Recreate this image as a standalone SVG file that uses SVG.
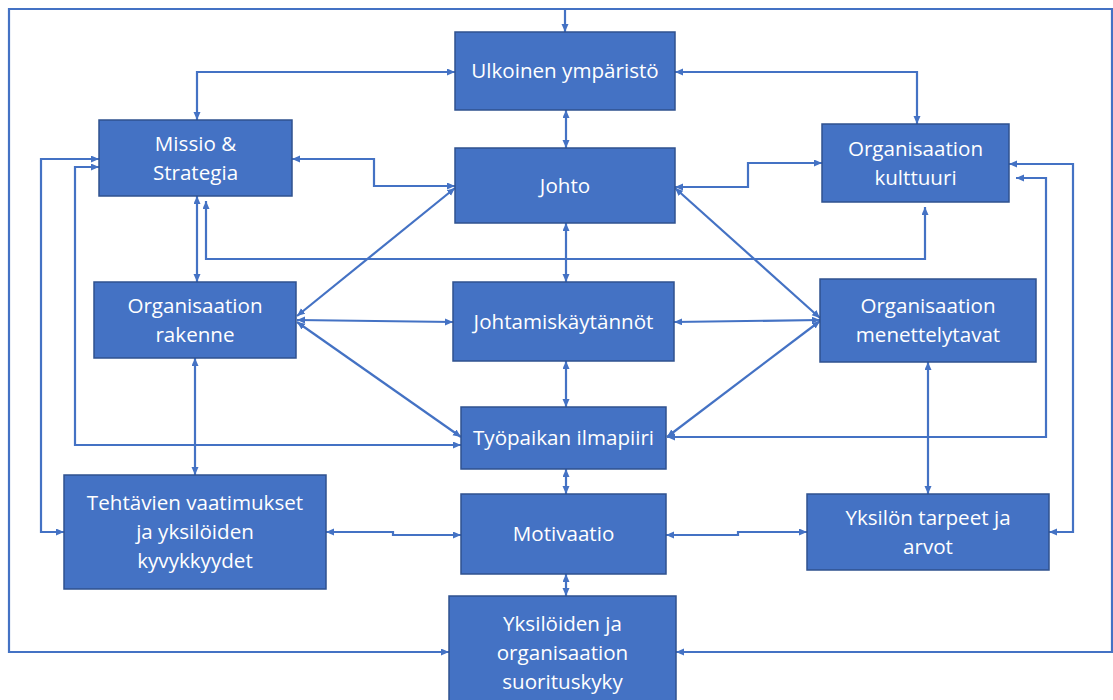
<svg xmlns="http://www.w3.org/2000/svg" width="1113" height="700" viewBox="0 0 1113 700">
  <style>
    .box { fill: #4472C4; stroke: #2F528F; stroke-width: 1.5; }
    .lbl { font-family: "Open Sans", "Liberation Sans", sans-serif; font-size: 20.6px; fill: #FFFFFF; text-anchor: middle; }
    .wire { fill: none; stroke: #4472C4; stroke-width: 2.2; }
    .both { marker-start: url(#head); marker-end: url(#head); }
    .end { marker-end: url(#head); }
  </style>
  <defs>
    <marker id="head" markerUnits="userSpaceOnUse" markerWidth="10" markerHeight="8" refX="8" refY="3.5" orient="auto-start-reverse">
      <path d="M0,0 L8,3.5 L0,7 Z" fill="#4472C4"/>
    </marker>
  </defs>
  <rect width="1113" height="700" fill="#FFFFFF"/>

  <!-- connectors -->
  <g id="connectors">
    <!-- outer feedback loop -->
    <path class="wire both" d="M449,652 H9 V9 H1112 V652 H676"/>
    <path class="wire end" d="M565,9 V32"/>
    <!-- top row -->
    <path class="wire both" d="M455,72 H197 V120"/>
    <path class="wire both" d="M675,72 H917 V124"/>
    <path class="wire both" d="M566,110 V148"/>
    <path class="wire both" d="M292,159 H374 V186 H455"/>
    <path class="wire both" d="M675,187 H748 V163 H822"/>
    <!-- diagonals from Johto -->
    <path class="wire both" d="M455,188 L297,316"/>
    <path class="wire both" d="M675,188 L820,318"/>
    <!-- Missio links -->
    <path class="wire both" d="M197,196 V282"/>
    <path class="wire both" d="M206,201 V259 H925 V207"/>
    <path class="wire both" d="M99,159 H41 V532 H64"/>
    <path class="wire both" d="M99,167 H75 V445 H461"/>
    <!-- middle row -->
    <path class="wire both" d="M566,223 V282"/>
    <path class="wire both" d="M297,320 L453,322"/>
    <path class="wire both" d="M297,322 L461,437"/>
    <path class="wire both" d="M674,322 L820,320"/>
    <path class="wire both" d="M820,321 L667,437"/>
    <path class="wire both" d="M566,361 V407"/>
    <!-- right side loops -->
    <path class="wire both" d="M1016,178 H1046 V437 H667"/>
    <path class="wire both" d="M1009,164 H1073 V532 H1049"/>
    <path class="wire both" d="M928,362 V494"/>
    <!-- lower row -->
    <path class="wire both" d="M566,469 V494"/>
    <path class="wire both" d="M566,574 V596"/>
    <path class="wire both" d="M666,535 H738 V532 H807"/>
    <path class="wire both" d="M326,532 H393 V535 H461"/>
    <path class="wire both" d="M195,358 V475"/>
  </g>

  <!-- nodes -->
  <g id="ulkoinen">
    <rect class="box" x="455" y="32" width="220" height="78"/>
    <text class="lbl" x="565" y="78">Ulkoinen ympäristö</text>
  </g>
  <g id="johto">
    <rect class="box" x="455" y="148" width="220" height="75"/>
    <text class="lbl" x="565" y="192.5">Johto</text>
  </g>
  <g id="missio">
    <rect class="box" x="99" y="120" width="193" height="76"/>
    <text class="lbl" x="195.5" y="150.5">Missio &amp;</text>
    <text class="lbl" x="195.5" y="179.5">Strategia</text>
  </g>
  <g id="kulttuuri">
    <rect class="box" x="822" y="124" width="187" height="78"/>
    <text class="lbl" x="915.5" y="155.5">Organisaation</text>
    <text class="lbl" x="915.5" y="184.5">kulttuuri</text>
  </g>
  <g id="rakenne">
    <rect class="box" x="94" y="282" width="202" height="76"/>
    <text class="lbl" x="195" y="312.5">Organisaation</text>
    <text class="lbl" x="195" y="341.5">rakenne</text>
  </g>
  <g id="johtamiskaytannot">
    <rect class="box" x="453" y="282" width="221" height="79"/>
    <text class="lbl" x="563.5" y="328.5">Johtamiskäytännöt</text>
  </g>
  <g id="menettelytavat">
    <rect class="box" x="820" y="279" width="216" height="83"/>
    <text class="lbl" x="928" y="313">Organisaation</text>
    <text class="lbl" x="928" y="342">menettelytavat</text>
  </g>
  <g id="ilmapiiri">
    <rect class="box" x="461" y="407" width="205" height="62"/>
    <text class="lbl" x="563.5" y="445">Työpaikan ilmapiiri</text>
  </g>
  <g id="tehtavien">
    <rect class="box" x="64" y="475" width="262" height="114"/>
    <text class="lbl" x="195" y="510">Tehtävien vaatimukset</text>
    <text class="lbl" x="195" y="539">ja yksilöiden</text>
    <text class="lbl" x="195" y="568">kyvykkyydet</text>
  </g>
  <g id="motivaatio">
    <rect class="box" x="461" y="494" width="205" height="80"/>
    <text class="lbl" x="563.5" y="541">Motivaatio</text>
  </g>
  <g id="yksilon-tarpeet">
    <rect class="box" x="807" y="494" width="242" height="76"/>
    <text class="lbl" x="928" y="524.5">Yksilön tarpeet ja</text>
    <text class="lbl" x="928" y="553.5">arvot</text>
  </g>
  <g id="suorituskyky">
    <rect class="box" x="449" y="596" width="227" height="116"/>
    <text class="lbl" x="562.5" y="630.5">Yksilöiden ja</text>
    <text class="lbl" x="562.5" y="659.5">organisaation</text>
    <text class="lbl" x="562.5" y="688.5">suorituskyky</text>
  </g>
</svg>
